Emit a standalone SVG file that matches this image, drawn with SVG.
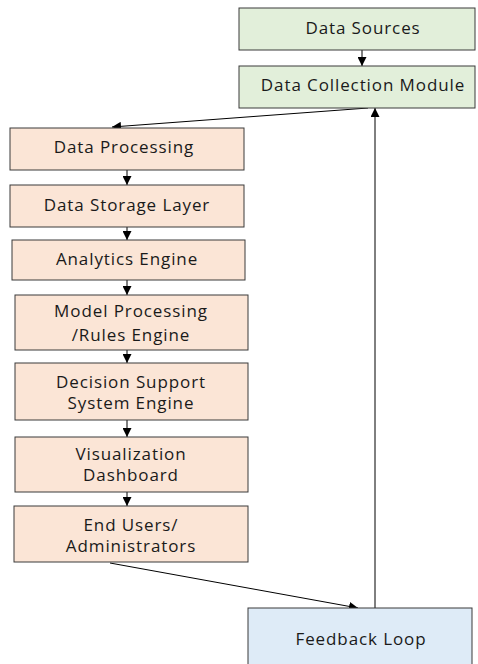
<svg xmlns="http://www.w3.org/2000/svg" width="478" height="664" viewBox="0 0 478 664">
<defs>
<style>
.box{stroke:#3a3a3a;stroke-width:1}
.g{fill:#e2efda}.p{fill:#fbe5d6}.b{fill:#deebf7}
text{font-family:"Open Sans","Liberation Sans",sans-serif;font-size:17px;letter-spacing:0.9px;fill:#1a1a1a;text-anchor:middle}
.c{stroke:#000;stroke-width:1;fill:none;marker-end:url(#ah)}
</style>
<marker id="ah" viewBox="0 0 10 10" refX="10" refY="5" markerWidth="9" markerHeight="9" markerUnits="userSpaceOnUse" orient="auto"><path d="M0,0 L10,5 L0,10 z" fill="#000"/></marker>
</defs>
<rect width="478" height="664" fill="#fff"/>
<g id="connectors">
<line class="c" x1="362" y1="50" x2="362" y2="66"/>
<line class="c" x1="368" y1="108" x2="112" y2="127"/>
<line class="c" x1="127" y1="170" x2="127" y2="185"/>
<line class="c" x1="127" y1="227" x2="127" y2="240"/>
<line class="c" x1="127" y1="280" x2="127" y2="295"/>
<line class="c" x1="127" y1="350" x2="127" y2="363"/>
<line class="c" x1="127" y1="420" x2="127" y2="437"/>
<line class="c" x1="127" y1="492" x2="127" y2="506"/>
<line class="c" x1="110" y1="563" x2="358" y2="608"/>
<line class="c" x1="375" y1="608" x2="375" y2="108"/>
</g>
<g id="data-sources"><rect class="box g" x="239" y="8" width="236" height="42"/><text x="363" y="34">Data Sources</text></g>
<g id="data-collection"><rect class="box g" x="239" y="66" width="236" height="42"/><text x="363" y="91">Data Collection Module</text></g>
<g id="data-processing"><rect class="box p" x="10" y="128" width="234" height="42"/><text x="124" y="153">Data Processing</text></g>
<g id="data-storage"><rect class="box p" x="10" y="185" width="234" height="42"/><text x="127" y="211">Data Storage Layer</text></g>
<g id="analytics"><rect class="box p" x="12" y="240" width="233" height="40"/><text x="127" y="265">Analytics Engine</text></g>
<g id="model-processing"><rect class="box p" x="15" y="295" width="233" height="55"/><text x="131" y="317">Model Processing</text><text x="131" y="341">/Rules Engine</text></g>
<g id="decision-support"><rect class="box p" x="15" y="363" width="233" height="57"/><text x="131" y="388">Decision Support</text><text x="131" y="409">System Engine</text></g>
<g id="visualization"><rect class="box p" x="15" y="437" width="233" height="55"/><text x="131" y="460">Visualization</text><text x="131" y="481">Dashboard</text></g>
<g id="end-users"><rect class="box p" x="14" y="506" width="234" height="56"/><text x="131" y="531">End Users/</text><text x="131" y="552">Administrators</text></g>
<g id="feedback-loop"><rect class="box b" x="248" y="608" width="224" height="62"/><text x="361" y="645">Feedback Loop</text></g>
</svg>
